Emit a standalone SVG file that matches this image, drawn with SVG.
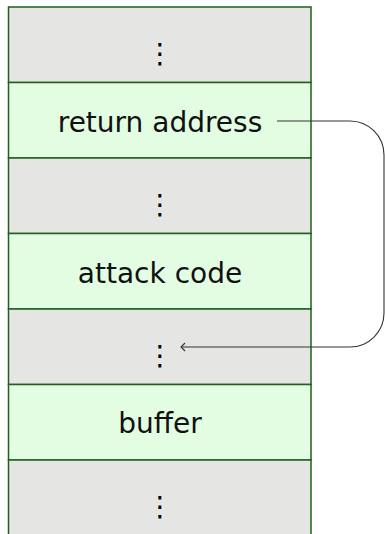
<svg xmlns="http://www.w3.org/2000/svg" width="385" height="534" viewBox="0 0 385 534">
<style>
.gray{fill:#e5e5e3;stroke:#1f5f1f;stroke-width:1.5}
.green{fill:#e3fde3;stroke:#1f5f1f;stroke-width:1.5}
.lbl{font-family:"DejaVu Sans",sans-serif;font-size:28px;fill:#111;text-anchor:middle}
.dots{font-family:"DejaVu Sans",sans-serif;font-size:28px;fill:#000;text-anchor:middle}
.conn{fill:none;stroke:#333;stroke-width:1.1}
</style>
<defs>
<marker id="arr" markerWidth="10" markerHeight="10" refX="5" refY="5" orient="auto" markerUnits="userSpaceOnUse">
<path d="M1,1 L5,5 L1,9" fill="none" stroke="#333" stroke-width="1.1"/>
</marker>
</defs>
<g id="row1"><rect class="gray" x="8.5" y="7" width="302.5" height="75.5"/><text class="dots" x="160" y="62.5">⋮</text></g>
<g id="row2"><rect class="green" x="8.5" y="82.5" width="302.5" height="75.5"/><text class="lbl" x="160" y="131.7">return address</text></g>
<g id="row3"><rect class="gray" x="8.5" y="158" width="302.5" height="75.5"/><text class="dots" x="160" y="214">⋮</text></g>
<g id="row4"><rect class="green" x="8.5" y="233.5" width="302.5" height="75.5"/><text class="lbl" x="160" y="283.3">attack code</text></g>
<g id="row5"><rect class="gray" x="8.5" y="309" width="302.5" height="75.5"/><text class="dots" x="160" y="365">⋮</text></g>
<g id="row6"><rect class="green" x="8.5" y="384.5" width="302.5" height="75.5"/><text class="lbl" x="160" y="433.3">buffer</text></g>
<g id="row7"><rect class="gray" x="8.5" y="460" width="302.5" height="75.5"/><text class="dots" x="160" y="516">⋮</text></g>
<g id="connectors">
<path class="conn" d="M277,121 H350 A34,34 0 0 1 384,155 V313 A34,34 0 0 1 350,347 H181" marker-end="url(#arr)"/>
</g>
</svg>
